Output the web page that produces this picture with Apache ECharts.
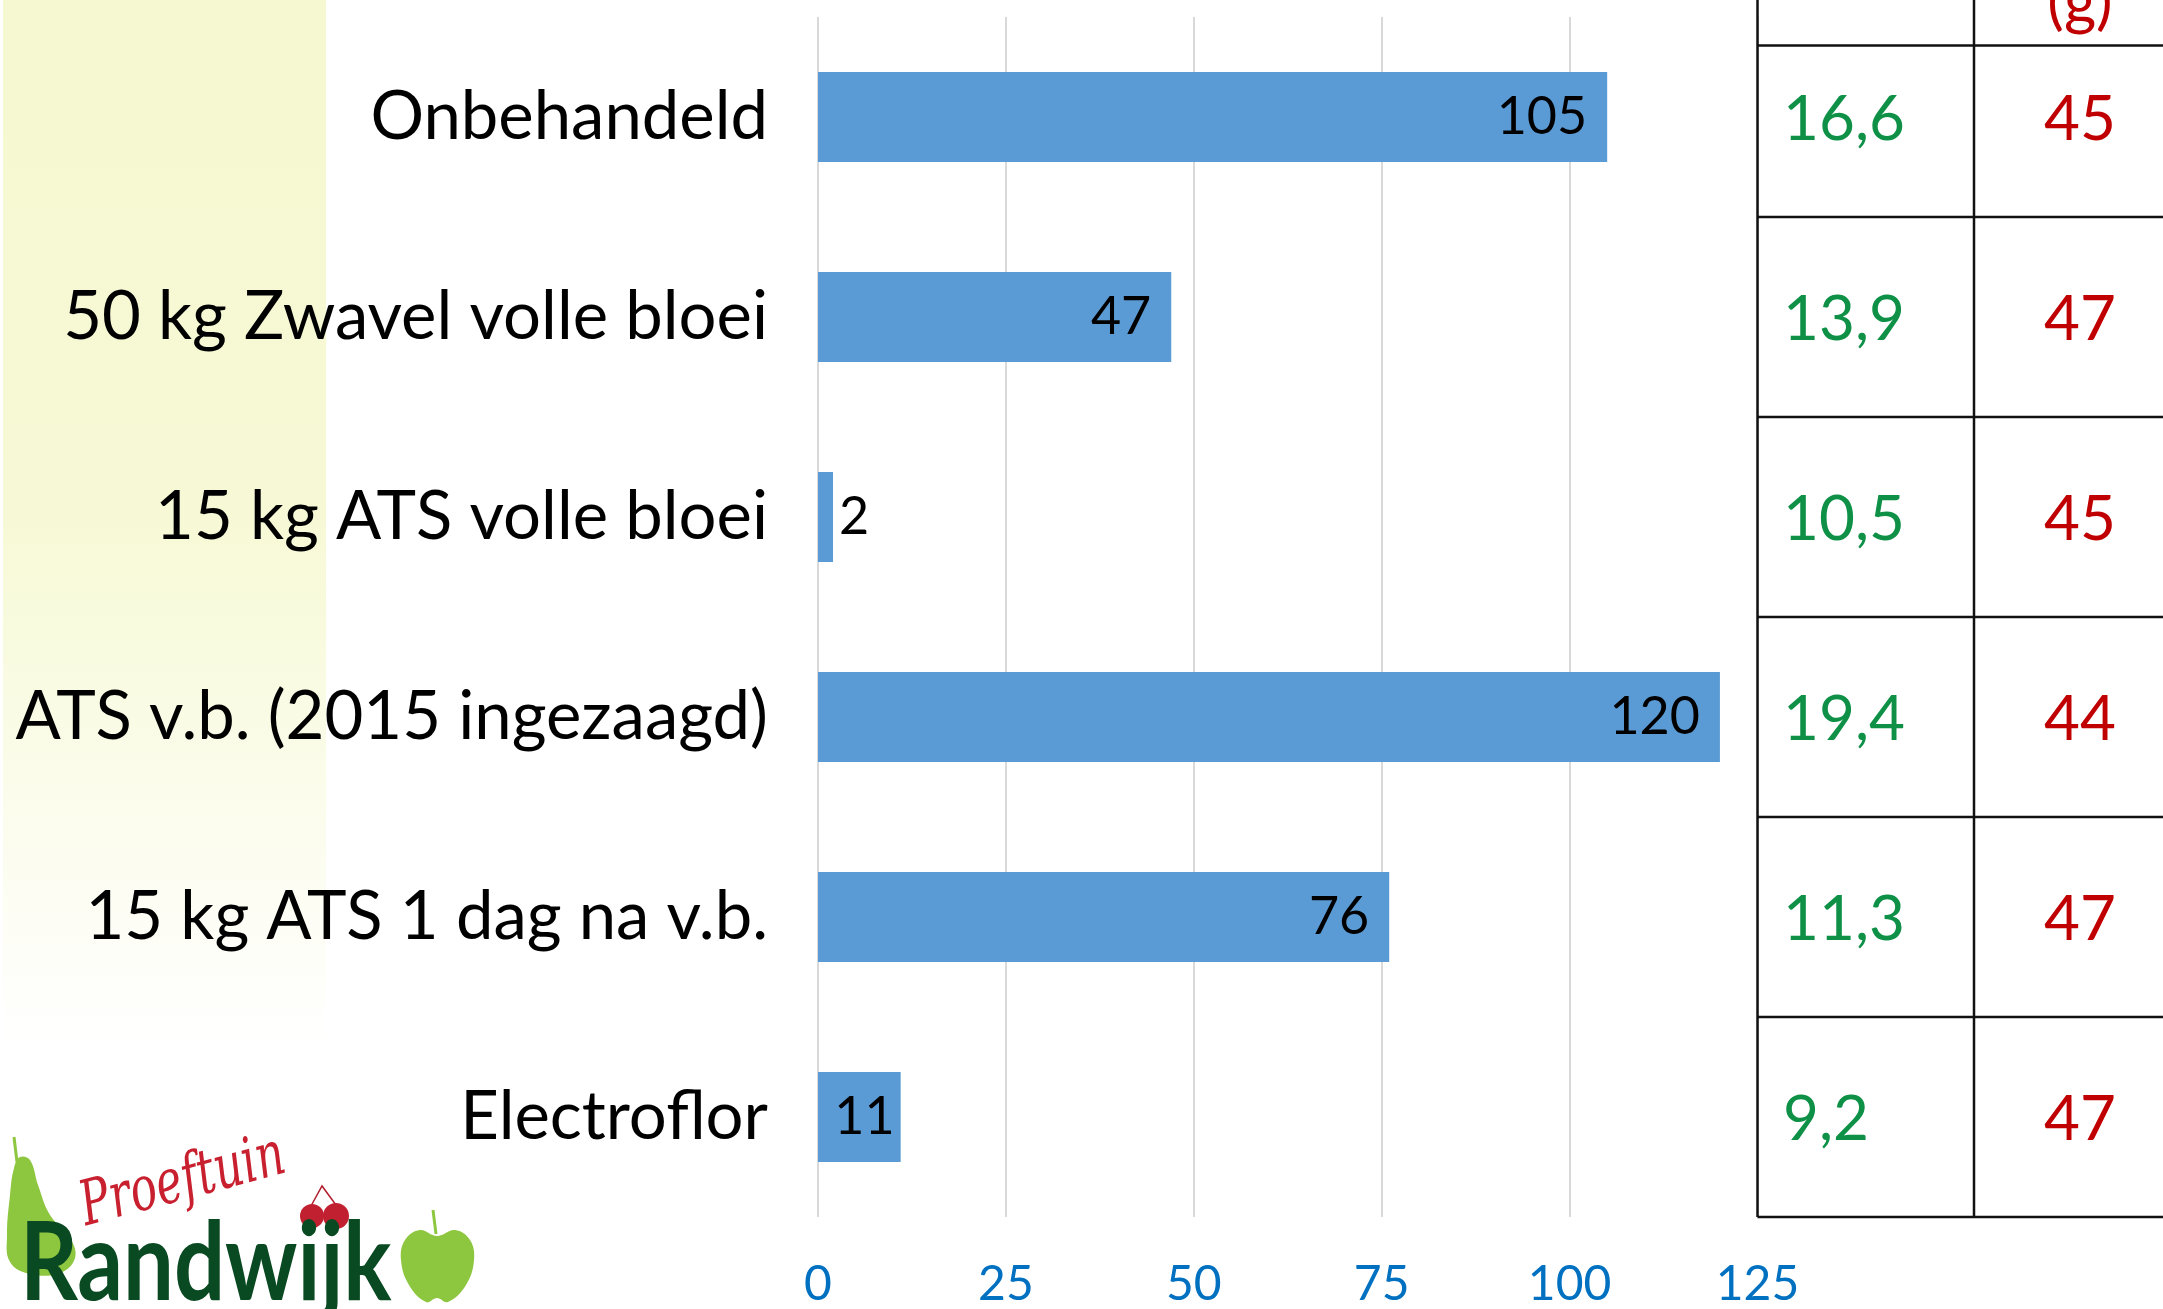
<!DOCTYPE html>
<html><head><meta charset="utf-8">
<script src="https://cdn.jsdelivr.net/npm/echarts@6/dist/echarts.min.js"></script>
<style>html,body{margin:0;padding:0;background:#fff;overflow:hidden}#c{width:2163px;height:1309px}</style>
</head><body><div id="c"></div>
<script>
// ---- data ----
const categories = ['Onbehandeld', '50 kg Zwavel volle bloei', '15 kg ATS volle bloei', 'ATS v.b. (2015 ingezaagd)', '15 kg ATS 1 dag na v.b.', 'Electroflor'];
const barValues = [105, 47, 2, 120, 76, 11];
const tableCol1 = ['16,6', '13,9', '10,5', '19,4', '11,3', '9,2'];
const tableCol2 = ['45', '47', '45', '44', '47', '47'];
const tableHeader2 = '(g)';
const xMin = 0, xMax = 125, xStep = 25;
const logoWord1 = 'Proeftuin';
const logoWord2 = 'Randwijk';

const FONT = 'Lato';
const chart = echarts.init(document.getElementById('c'), null, {renderer: 'canvas'});

const barData = barValues.map(v => {
  if (v < 5) return {value: v, label: {position: 'right', distance: 6}};
  if (v < 20) return {value: v, label: {position: 'insideRight', distance: 6}};
  return {value: v};
});

chart.setOption({
  animation: false,
  backgroundColor: '#ffffff',
  textStyle: {fontFamily: FONT},
  grid: {left: 818, right: 405.5, top: 17, bottom: 90, containLabel: false},
  xAxis: {
    type: 'value', min: xMin, max: xMax, interval: xStep,
    axisLine: {show: false}, axisTick: {show: false},
    splitLine: {show: true, lineStyle: {color: '#D9D9D9', width: 2}},
    axisLabel: {color: '#0070C0', fontSize: 48, margin: 44, fontFamily: FONT}
  },
  yAxis: {
    type: 'category', data: categories, inverse: true,
    axisLine: {show: false}, axisTick: {show: false}, splitLine: {show: false},
    axisLabel: {color: '#000000', fontSize: 67, margin: 50, fontFamily: FONT}
  },
  series: [{
    type: 'bar', data: barData, barWidth: 90,
    itemStyle: {color: '#5B9BD5'},
    label: {show: true, position: 'insideRight', distance: 20, color: '#000', fontSize: 52, fontFamily: FONT}
  }]
});

function buildGraphics() {
  const els = [];
  els.push({
    type: 'rect', z: -10, silent: true,
    shape: {x: 3, y: 0, width: 323, height: 1309},
    style: {fill: new echarts.graphic.LinearGradient(0, 0, 0, 1, [
      {offset: 0, color: '#F6F8D1'},
      {offset: 0.4, color: '#F7F9D6'},
      {offset: 0.8, color: '#FFFFFF'},
      {offset: 1, color: '#FFFFFF'}
    ])}
  });

  const centers = categories.map(c => chart.convertToPixel({yAxisIndex: 0}, c));
  const band = centers[1] - centers[0];
  const tableLeft = chart.convertToPixel({xAxisIndex: 0}, xMax);
  const colDiv = 1974;
  const W = 2163;
  const bottom = centers[centers.length - 1] + band / 2;
  const lineStyle = {stroke: '#111', lineWidth: 2.5};
  els.push({type: 'line', shape: {x1: tableLeft, y1: 0, x2: tableLeft, y2: bottom}, style: lineStyle});
  els.push({type: 'line', shape: {x1: colDiv, y1: 0, x2: colDiv, y2: bottom}, style: lineStyle});
  els.push({type: 'line', shape: {x1: tableLeft, y1: 45.5, x2: W, y2: 45.5}, style: lineStyle});
  centers.forEach((c, i) => {
    if (i === 0) return;
    const y = c - band / 2;
    els.push({type: 'line', shape: {x1: tableLeft, y1: y, x2: W, y2: y}, style: lineStyle});
  });
  els.push({type: 'line', shape: {x1: tableLeft, y1: bottom, x2: W, y2: bottom}, style: lineStyle});
  els.push({type: 'text', x: 2080, y: 34, style: {text: tableHeader2, fill: '#C00000', font: '62px ' + FONT, textAlign: 'center', textVerticalAlign: 'bottom'}});
  centers.forEach((c, i) => {
    els.push({type: 'text', x: 1783, y: c + 3, style: {text: tableCol1[i], fill: '#0E9147', font: '62px ' + FONT, textAlign: 'left', textVerticalAlign: 'middle'}});
    els.push({type: 'text', x: 2080, y: c + 3, style: {text: tableCol2[i], fill: '#C00000', font: '62px ' + FONT, textAlign: 'center', textVerticalAlign: 'middle'}});
  });

  // ---- logo ----
  const lightGreen = '#8DC63F';
  els.push({type: 'line', z: 50, shape: {x1: 14, y1: 1137, x2: 17, y2: 1162}, style: {stroke: lightGreen, lineWidth: 3}});
  els.push({type: 'polygon', z: 50, shape: {smooth: 0.4, points: [[20, 1157], [30, 1160], [38, 1185], [50, 1215], [70, 1238], [75, 1258], [60, 1273], [30, 1274], [10, 1262], [7, 1235], [10, 1195], [14, 1168]]}, style: {fill: lightGreen}});
  els.push({type: 'line', z: 50, shape: {x1: 433, y1: 1210, x2: 436, y2: 1234}, style: {stroke: lightGreen, lineWidth: 3}});
  els.push({type: 'polygon', z: 50, shape: {smooth: 0.4, points: [[437, 1236], [455, 1230], [470, 1240], [474, 1260], [466, 1285], [448, 1302], [437, 1298], [426, 1302], [409, 1285], [401, 1260], [405, 1240], [420, 1230]]}, style: {fill: lightGreen}});
  els.push({type: 'polyline', z: 50, shape: {points: [[311, 1206], [322, 1186], [336, 1205]]}, style: {stroke: '#B01E2D', lineWidth: 1.5, fill: null}});
  els.push({type: 'circle', z: 51, shape: {cx: 312, cy: 1216, r: 12}, style: {fill: '#C0202F'}});
  els.push({type: 'circle', z: 51, shape: {cx: 336, cy: 1216, r: 13}, style: {fill: '#C0202F'}});
  els.push({type: 'text', z: 52, x: 183, y: 1183, rotation: 0.26, scaleX: 0.82, scaleY: 1.15, style: {text: logoWord1, fill: '#C8202F', font: 'italic 54px "DejaVu Serif"', textAlign: 'center', textVerticalAlign: 'middle'}});
  els.push({type: 'text', z: 53, x: 20, y: 1320, scaleX: 0.82, style: {text: logoWord2, fill: '#0A4A22', font: 'bold 110px ' + FONT, textAlign: 'left', textVerticalAlign: 'bottom'}});
  return els;
}

chart.setOption({graphic: {elements: buildGraphics()}});
</script>
</body></html>
